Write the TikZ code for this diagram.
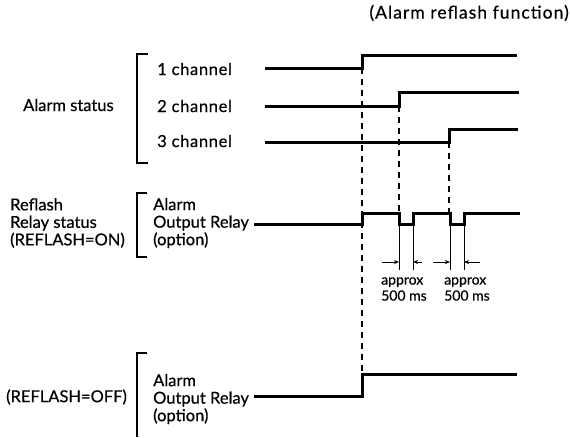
\documentclass[tikz,border=0pt]{standalone}
\usepackage{fontspec}
\setmainfont{Lato}[FakeBold=0.5]
\usetikzlibrary{arrows.meta}
\begin{document}
\begin{tikzpicture}[x=1pt,y=-1pt,line cap=butt,line join=miter,
  lbl/.style={anchor=west,inner sep=0pt,font=\fontsize{16.5}{17.5}\selectfont,align=left},
  sig/.style={line width=3pt},
  guide/.style={line width=1.1pt,dash pattern=on 6pt off 5pt},
  brk/.style={line width=1.1pt},
  tick/.style={line width=0.7pt},
  gap/.style={line width=0.7pt,-{Stealth[length=5pt,width=4pt]}}]
  \useasboundingbox (0,0) rectangle (570,437);
  % title
  \node[lbl,anchor=east,font=\fontsize{17.5}{18}\selectfont] (title) at (569,13)
    {\addfontfeatures{LetterSpace=6}(Alarm reflash function)};
  % alarm status block
  \node[lbl] (alst) at (23,105) {Alarm status};
  \draw[brk] (148,54)--(137,54)--(137,163)--(148,163);
  \node[lbl] (ch1) at (157,69) {\addfontfeatures{LetterSpace=4}1 channel};
  \node[lbl] (ch2) at (157,106) {\addfontfeatures{LetterSpace=4}2 channel};
  \node[lbl] (ch3) at (157,141) {\addfontfeatures{LetterSpace=4}3 channel};
  % dashed guides
  \draw[guide] (362,68)--(362,374);
  \draw[guide] (399,106)--(399,213);
  \draw[guide] (449,142)--(449,213);
  % channel signals
  \draw[sig] (265,68)--(362,68)--(362,55)--(517,55);
  \draw[sig] (265,106)--(399,106)--(399,92)--(519,92);
  \draw[sig] (265,142)--(449,142)--(449,129)--(518,129);
  % reflash on
  \node[lbl] (rson) at (10,223) {Reflash\\Relay status\\(REFLASH=ON)};
  \draw[brk] (147,193)--(137,193)--(137,257)--(147,257);
  \node[lbl] (relon) at (153,223) {Alarm\\Output Relay\\(option)};
  \draw[sig] (254,224)--(362,224)--(362,213)--(399,213)--(399,224)--(413,224)--(413,213)
    --(450,213)--(450,224)--(464,224)--(464,213)--(520,213);
  \coordinate (t1) at (399,224);
  \coordinate (t2) at (413,224);
  \coordinate (t3) at (450,224);
  \coordinate (t4) at (464,224);
  \foreach \t in {t1,t2,t3,t4}
    \draw[tick] (\t)--++(0,46);
  \draw[gap] (382,262)--(399,262);
  \draw[gap] (422,262)--(413,262);
  \draw[gap] (433,262)--(450,262);
  \draw[gap] (480,262)--(464,262);
  \node[lbl,font=\fontsize{14}{16}\selectfont] (ap1) at (381,289) {approx\\500 ms};
  \node[lbl,font=\fontsize{14}{16}\selectfont] (ap2) at (444,289) {approx\\500 ms};
  % reflash off
  \node[lbl] (rsoff) at (6,397) {(REFLASH=OFF)};
  \draw[brk] (147,353)--(137,353)--(137,437);
  \node[lbl] (reloff) at (153,399) {Alarm\\Output Relay\\(option)};
  \draw[sig] (254,396)--(362,396)--(362,374)--(517,374);
\end{tikzpicture}
\end{document}
